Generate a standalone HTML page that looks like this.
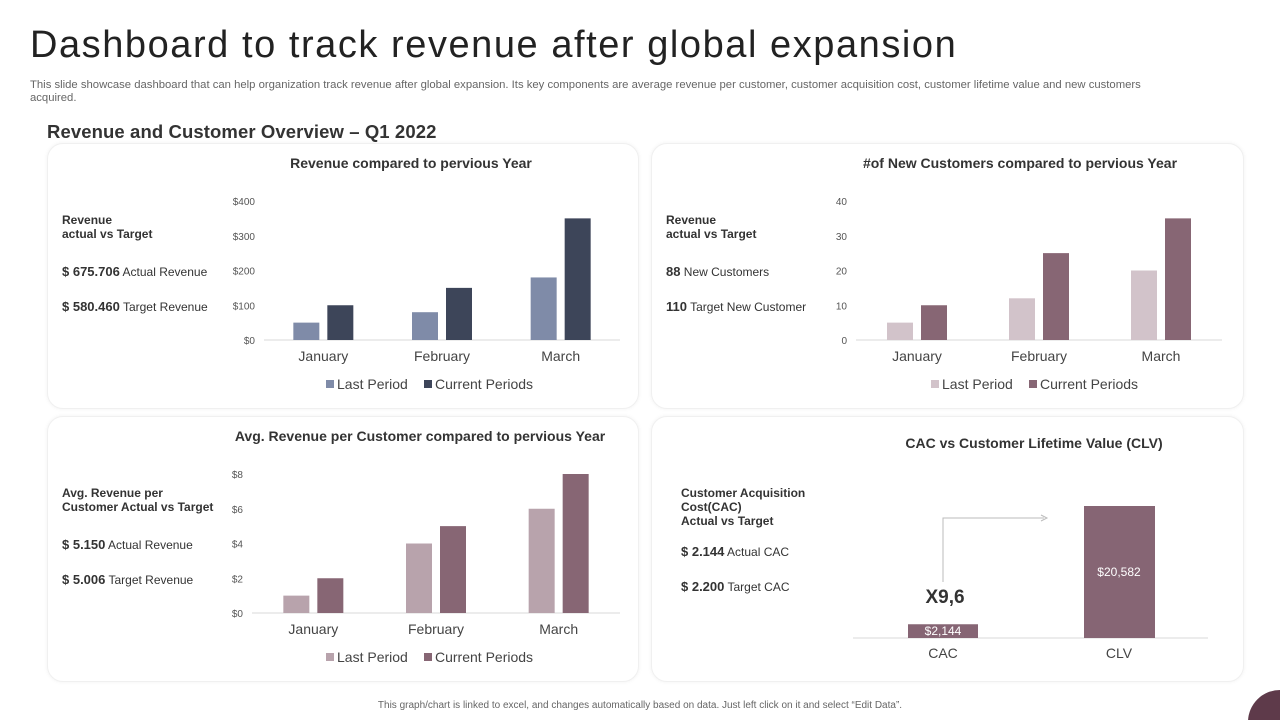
<!DOCTYPE html>
<html><head><meta charset="utf-8">
<style>
html,body{margin:0;padding:0}
#page{width:1280px;height:720px;overflow:hidden;background:#fff;font-family:"Liberation Sans",sans-serif;position:relative;color:#333}
.abs{position:absolute}
.card{position:absolute;border:1px solid #f0f0f0;border-radius:16px;box-shadow:0 0 4px rgba(0,0,0,0.06);background:#fff}
.side{position:absolute;font-size:12px;color:#333}
.side .big{font-weight:bold;font-size:13px}
</style></head><body>
<div id="page">
<div class="abs" style="left:30px;top:24px;font-size:38px;color:#222;letter-spacing:1.55px">Dashboard to track revenue after global expansion</div>
<div class="abs" style="left:30px;top:79px;width:1135px;font-size:11.3px;color:#666;line-height:13px">This slide showcase dashboard that can help organization track revenue after global expansion. Its key components are average revenue per customer, customer acquisition cost, customer lifetime value and new customers acquired.</div>
<div class="abs" style="left:47px;top:121px;font-size:18.5px;font-weight:bold;color:#333;letter-spacing:0.1px">Revenue and Customer Overview – Q1 2022</div>

<div class="card" style="left:47px;top:143px;width:590px;height:264px"></div>
<div class="card" style="left:651px;top:143px;width:591px;height:264px"></div>
<div class="card" style="left:47px;top:416px;width:590px;height:264px"></div>
<div class="card" style="left:651px;top:416px;width:591px;height:264px"></div>

<div class="side" style="left:62px;top:213px">
<div style="font-weight:bold;line-height:14px">Revenue<br>actual vs Target</div>
<div style="margin-top:23px"><span class="big">$ 675.706</span> Actual Revenue</div>
<div style="margin-top:20px"><span class="big">$ 580.460</span> Target Revenue</div></div>
<div class="side" style="left:666px;top:213px">
<div style="font-weight:bold;line-height:14px">Revenue<br>actual vs Target</div>
<div style="margin-top:23px"><span class="big">88</span> New Customers</div>
<div style="margin-top:20px"><span class="big">110</span> Target New Customer</div></div>
<div class="side" style="left:62px;top:486px">
<div style="font-weight:bold;line-height:14px">Avg. Revenue per<br>Customer Actual vs Target</div>
<div style="margin-top:23px"><span class="big">$ 5.150</span> Actual Revenue</div>
<div style="margin-top:20px"><span class="big">$ 5.006</span> Target Revenue</div></div>
<div class="side" style="left:681px;top:486px">
<div style="font-weight:bold;line-height:14px">Customer Acquisition<br>Cost(CAC)<br>Actual vs Target</div>
<div style="margin-top:16px"><span class="big">$ 2.144</span> Actual CAC</div>
<div style="margin-top:20px"><span class="big">$ 2.200</span> Target CAC</div></div>

<div class="abs" style="left:0;width:1280px;top:700px;text-align:center;font-size:10px;color:#666">This graph/chart is linked to excel, and changes automatically based on data. Just left click on it and select “Edit Data”.</div>
<div class="abs" style="left:1248px;top:690px;width:64px;height:64px;border-radius:50%;background:#5e3a4a"></div>

<svg id="charts" class="abs" style="left:0;top:0" width="1280" height="720"></svg>
</div>
<script>
const months=["January","February","March"];
const revLast=[50,80,180];
const revCur=[100,150,350];
const revTicks=["$0","$100","$200","$300","$400"];
const custLast=[5,12,20];
const custCur=[10,25,35];
const custTicks=["0","10","20","30","40"];
const avgLast=[1,4,6];
const avgCur=[2,5,8];
const avgTicks=["$0","$2","$4","$6","$8"];
const cacCats=["CAC","CLV"];
const cacVals=[2144,20582];
const cacLabels=["$2,144","$20,582"];
const NS="http://www.w3.org/2000/svg";
const svg=document.getElementById('charts');
function mk(tag,attrs,txt){const e=document.createElementNS(NS,tag);for(const k in attrs)e.setAttribute(k,attrs[k]);if(txt!==undefined)e.textContent=txt;svg.appendChild(e);return e;}
function barChart(o){
  const y=v=>o.y0-(v/o.max)*(o.y0-o.yTop);
  const t=mk('text',{x:o.titleX,y:o.titleY,'text-anchor':'middle','font-size':14,'font-weight':'bold',fill:'#333'},o.title);
  
  
  o.ticks.forEach((lab,i)=>{const v=o.max*i/(o.ticks.length-1);
    const e=mk('text',{x:o.tickX,y:y(v)+4,'text-anchor':'end','font-size':10,fill:'#555'},lab);
    
    });
  const ax=mk('line',{x1:o.ax1,x2:o.ax2,y1:o.y0,y2:o.y0,stroke:'#d9d9d9','stroke-width':1});
  
  
  const step=(o.ax2-o.ax1)/o.cats.length;
  o.cats.forEach((c,i)=>{const cx=o.ax1+step*(i+0.5);
    [[o.s1,o.c1,-1],[o.s2,o.c2,1]].forEach(([s,col,d])=>{
      const x=d<0?cx-30:cx+4;
      const r=mk('rect',{x:x,y:y(s[i]),width:26,height:o.y0-y(s[i]),fill:col});
      
      });
    const l=mk('text',{x:cx,y:o.y0+21,'text-anchor':'middle','font-size':14,fill:'#444'},c);
    
    });
  const lx=o.legX,ly=o.y0+49;
  [[o.c1,'Last Period',0],[o.c2,'Current Periods',98]].forEach(([col,lab,off])=>{
    const r=mk('rect',{x:lx+off,y:ly-9,width:8,height:8,fill:col});
    
    
    const e=mk('text',{x:lx+off+11,y:ly,'font-size':14,fill:'#444'},lab);
    
    });
}
barChart({name:'revenue',title:'Revenue compared to pervious Year',titleX:411,titleY:168,cats:months,s1:revLast,s2:revCur,c1:'#7f8ba8',c2:'#3d4559',max:400,ticks:revTicks,y0:340,yTop:201,tickX:255,ax1:264,ax2:620,legX:326});
barChart({name:'customers',title:'#of New Customers compared to pervious Year',titleX:1020,titleY:168,cats:months,s1:custLast,s2:custCur,c1:'#d2c3ca',c2:'#876674',max:40,ticks:custTicks,y0:340,yTop:201,tickX:847,ax1:856,ax2:1222,legX:931});
barChart({name:'avg-revenue',title:'Avg. Revenue per Customer compared to pervious Year',titleX:420,titleY:441,cats:months,s1:avgLast,s2:avgCur,c1:'#b8a3ac',c2:'#876674',max:8,ticks:avgTicks,y0:613,yTop:474,tickX:243,ax1:252,ax2:620,legX:326});
(function(){
  const y0=638,yTop=506,max=cacVals[1];
  const y=v=>y0-(v/max)*(y0-yTop);
  const t=mk('text',{x:1034,y:448,'text-anchor':'middle','font-size':14,'font-weight':'bold',fill:'#333'},'CAC vs Customer Lifetime Value (CLV)');
  
  
  const ax=mk('line',{x1:853,x2:1208,y1:y0,y2:y0,stroke:'#d9d9d9'});
  
  
  const cxs=[943,1119];
  cacCats.forEach((c,i)=>{const top=y(cacVals[i]);
    const r=mk('rect',{x:cxs[i]-35,y:top,width:70+(i?1:0),height:y0-top,fill:'#866574'});
    
    
    const vl=mk('text',{x:cxs[i],y:i?(top+y0)/2+4:y0-3,'text-anchor':'middle','font-size':12,fill:'#fff'},cacLabels[i]);
    
    
    const l=mk('text',{x:cxs[i],y:y0+20,'text-anchor':'middle','font-size':14,fill:'#444'},c);
    
    });
  const p=mk('path',{d:'M943 582 V518 H1044',stroke:'#bbb',fill:'none','stroke-width':1});
  
  
  const a=mk('path',{d:'M1041 515 L1047 518 L1041 521',stroke:'#bbb',fill:'none'});
  
  
  const m=mk('text',{x:945,y:603,'text-anchor':'middle','font-size':19,'font-weight':'bold',fill:'#333'},'X9,6');
  
  
})();
</script>
</body></html>
